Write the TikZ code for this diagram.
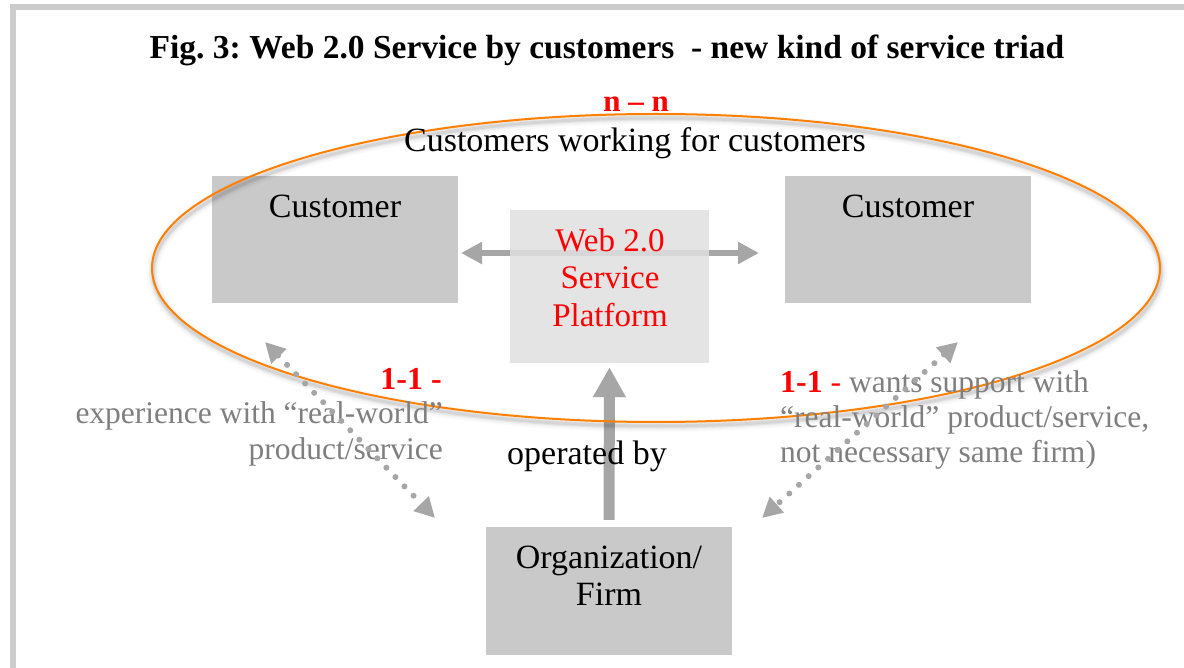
\documentclass[tikz,border=0pt]{standalone}
\usepackage{fontspec}
\setmainfont{Liberation Serif}
\usetikzlibrary{arrows.meta}
\frenchspacing

\definecolor{boxgray}{HTML}{C9C9C9}
\definecolor{platgray}{HTML}{E0E0E0}
\definecolor{arrowgray}{HTML}{A6A6A6}
\definecolor{textgray}{HTML}{7F7F7F}
\definecolor{ringorange}{HTML}{FF8000}
\definecolor{framegray}{HTML}{CCCCCC}
\definecolor{hotred}{HTML}{FF0000}

\begin{document}
\begin{tikzpicture}[x=1pt,y=-1pt,
  box/.style={fill=boxgray, draw=none, inner sep=0pt},
  lbl/.style={anchor=base, inner sep=0pt, font=\fontsize{34}{40}\selectfont},
  redlbl/.style={lbl, text=hotred, font=\fontsize{33}{40}\selectfont},
  greylbl/.style={anchor=base east, inner sep=0pt, text=textgray, font=\fontsize{31.5}{36}\selectfont},
  greylblw/.style={greylbl, anchor=base west},
  hdarrow/.style={draw=arrowgray, line width=6pt,
    {Triangle[length=21pt,width=21pt]}-{Triangle[length=21pt,width=21pt]}},
  uparrow/.style={draw=arrowgray, line width=11pt, -{Triangle[length=30pt,width=31pt]}},
  dotarrow/.style={draw=arrowgray, line width=6pt, line cap=round, dash pattern=on 0pt off 13pt,
    {Triangle[length=20pt,width=20pt]}-{Triangle[length=20pt,width=20pt]}},
]
\useasboundingbox (0,0) rectangle (1184,668);
\fill[white] (0,0) rectangle (1184,668);

% page frame
\fill[framegray] (10,4) rectangle (1184,10);
\fill[framegray] (10,4) rectangle (16,668);

% title
\node[anchor=base, inner sep=0pt, font=\fontsize{33.5}{38}\selectfont\bfseries] (title) at (607,59)
  {Fig. 3: Web 2.0 Service by customers~ - new kind of service triad};

% customer boxes and the platform
\node[box, minimum width=246pt, minimum height=127pt] (lc) at (335,239.5) {};
\node[box, minimum width=246pt, minimum height=127pt] (rc) at (908,239.5) {};
\node[lbl] (lct) at (335,218) {Customer};
\node[lbl] (rct) at (908,218) {Customer};

\coordinate (hl) at (461,253);
\coordinate (hr) at (759,253);
\draw[hdarrow] (hl) -- (hr);

\node[fill=platgray, fill opacity=0.86, draw=none, inner sep=0pt,
      minimum width=199pt, minimum height=153pt] (plat) at (609.5,286.5) {};
\node[redlbl] (p1) at (610,252) {Web 2.0};
\node[redlbl] (p2) at (610,289) {Service};
\node[redlbl] (p3) at (610,327) {Platform};

% organization box and its arrow to the platform
\node[box, minimum width=246pt, minimum height=128pt] (org) at (609,591) {};
\node[lbl] (o1) at (609,568) {Organization/};
\node[lbl] (o2) at (609,605) {Firm};
\draw[uparrow] ([yshift=7pt]org.north) -- ([yshift=-4pt]plat.south);
\node[lbl] (opby) at (587,464) {operated by};

% ring of customers with its soft shadow
\foreach \w/\o in {12/0.025, 8/0.035, 5/0.05, 3/0.06}
  \draw[black, opacity=\o, line width=\w pt] (657,272) ellipse [x radius=504pt, y radius=154pt];
\draw[ringorange, line width=2pt] (656,268) ellipse [x radius=504pt, y radius=154pt];

\node[anchor=base, inner sep=0pt, text=hotred, font=\fontsize{31}{36}\selectfont\bfseries] (nn) at (636,112) {n -- n};
\node[lbl] (cwfc) at (635,152) {Customers working for customers};

% relations between each customer and the firm
\node[anchor=base east, inner sep=0pt, text=hotred, font=\fontsize{32}{36}\selectfont\bfseries] (oneL) at (442,390) {1-1 -};
\node[greylbl] (el1) at (443,423) {experience with “real-world”};
\node[greylbl] (el2) at (443,459) {product/service};

\node[greylblw] (er1) at (780,392) {{\bfseries\color{hotred}\fontsize{32}{36}\selectfont 1-1} {\color{hotred}-} wants support with};
\node[greylblw] (er2) at (780,427) {“real-world” product/service,};
\node[greylblw] (er3) at (780,462) {not necessary same firm)};

\coordinate (dl1) at (265,342);
\coordinate (dl2) at (435,518);
\coordinate (dr1) at (958,342);
\coordinate (dr2) at (762,518);
\draw[dotarrow] (dl1) -- (dl2);
\draw[dotarrow] (dr1) -- (dr2);
\end{tikzpicture}
\end{document}
